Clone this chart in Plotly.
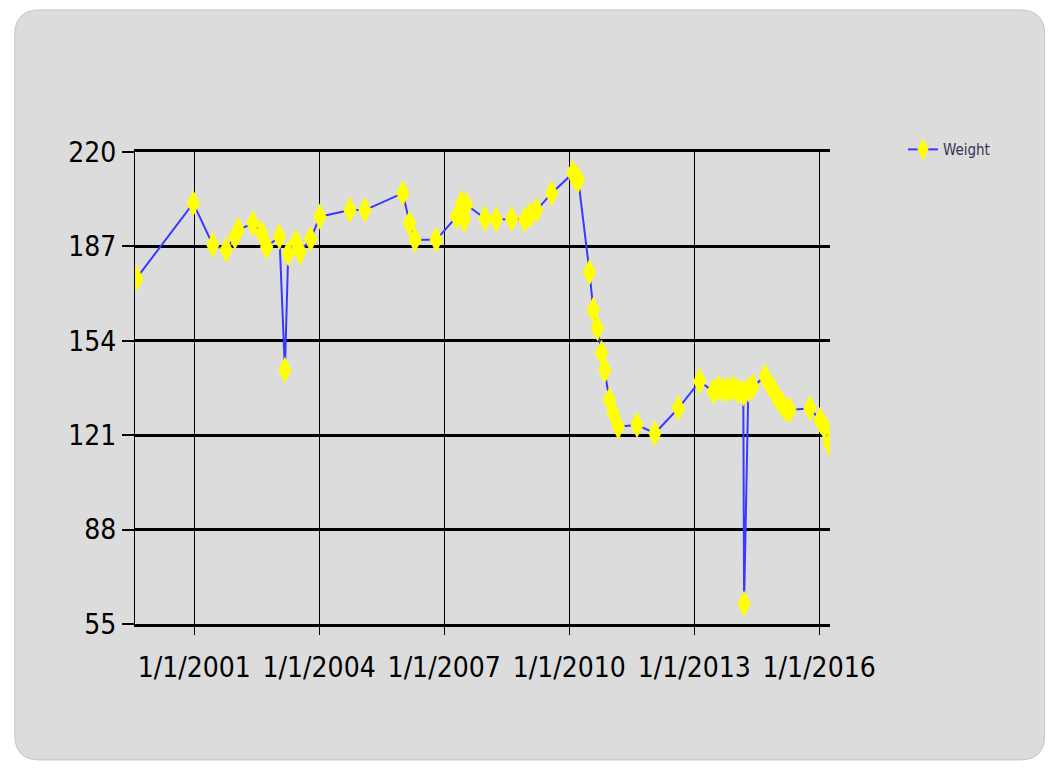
import plotly.graph_objects as go

# ==================================================
# Data
# ==================================================

dates = [
    "1999-08-15", "2000-12-24", "2001-06-13", "2001-10-08", "2001-12-24",
    "2002-01-22", "2002-05-30", "2002-08-15", "2002-09-28", "2003-01-18",
    "2003-03-07", "2003-04-05", "2003-06-13", "2003-07-20", "2003-10-19",
    "2004-01-08", "2004-09-27", "2005-02-06", "2006-01-04", "2006-03-04",
    "2006-04-20", "2006-10-23", "2007-04-20", "2007-06-03", "2007-06-25",
    "2007-07-16", "2007-12-24", "2008-04-01", "2008-08-15", "2008-12-08",
    "2009-01-22", "2009-03-22", "2009-07-31", "2010-02-03", "2010-02-28",
    "2010-03-22", "2010-06-28", "2010-07-31", "2010-09-06", "2010-10-12",
    "2010-11-10", "2010-12-20", "2011-01-22", "2011-03-07", "2011-08-19",
    "2012-01-22", "2012-08-15", "2013-02-17", "2013-06-17", "2013-07-31",
    "2013-09-13", "2013-10-27", "2013-12-08", "2014-01-22", "2014-03-07",
    "2014-03-14", "2014-04-20", "2014-05-30", "2014-09-13", "2014-10-19",
    "2014-11-24", "2015-01-01", "2015-02-06", "2015-03-14", "2015-04-20",
    "2015-10-12", "2016-01-08", "2016-02-14", "2016-04-01",
]
weights = [
    175.9, 202.1, 187.5, 185.8, 190.4,
    192.7, 195.1, 191.6, 186.9, 190.4,
    143.8, 184.6, 188.5, 185.0, 189.6,
    197.4, 199.7, 199.7, 205.6, 195.1,
    189.3, 189.3, 197.4, 202.1, 196.3,
    201.5, 196.8, 196.3, 196.6, 196.3,
    198.0, 199.7, 205.6, 212.6, 211.0,
    210.2, 178.0, 164.8, 158.4, 149.7,
    143.8, 133.3, 128.7, 124.0, 124.6,
    121.7, 130.4, 139.8, 136.3, 137.5,
    136.8, 137.0, 137.4, 136.5, 135.7,
    62.1, 137.0, 138.0, 141.5, 139.0,
    136.8, 134.0, 132.2, 130.0, 129.8,
    130.4, 126.3, 124.0, 118.2,
]

y_ticks = [55, 88, 121, 154, 187, 220]
x_ticks = ["2001-01-01", "2004-01-01", "2007-01-01", "2010-01-01", "2013-01-01", "2016-01-01"]
x_labels = ["1/1/2001", "1/1/2004", "1/1/2007", "1/1/2010", "1/1/2013", "1/1/2016"]

FONT = "DejaVu Sans Condensed, Liberation Sans Narrow, Arial Narrow, sans-serif"

# ==================================================
# Figure
# ==================================================

fig = go.Figure()

fig.add_trace(go.Scatter(
    x=dates, y=weights, name="Weight", mode="lines+markers",
    line=dict(color="#3a3aff", width=2),
    marker=dict(symbol="diamond-tall", size=19, color="#ffff00",
                line=dict(width=0)),
))

# rounded grey panel behind the chart (paper coords)
x0, x1, y0, y1 = -0.173, 1.309, -0.288, 1.301
rx, ry = 0.036, 0.053
panel = (f"M {x0+rx},{y1} L {x1-rx},{y1} Q {x1},{y1} {x1},{y1-ry} "
         f"L {x1},{y0+ry} Q {x1},{y0} {x1-rx},{y0} L {x0+rx},{y0} "
         f"Q {x0},{y0} {x0},{y0+ry} L {x0},{y1-ry} Q {x0},{y1} {x0+rx},{y1} Z")
fig.add_shape(type="path", path=panel, xref="paper", yref="paper",
              fillcolor="#dcdcdc", line=dict(color="#c4c4c4", width=1),
              layer="below")

# page body adds 8px, so the figure is 8px smaller than the window
fig.update_layout(
    width=1045, height=761,
    margin=dict(l=127, r=223, t=144, b=145),
    paper_bgcolor="white",
    plot_bgcolor="rgba(0,0,0,0)",
    showlegend=True,
    legend=dict(x=1.105, y=1.04, xanchor="left", yanchor="top",
                bgcolor="rgba(0,0,0,0)",
                font=dict(family=FONT, size=15, color="#333355")),
)

# x axis line (mirrored) doubles as the thick 55 / 220 grid lines
fig.update_xaxes(
    type="date", range=["1999-08-01", "2016-04-05"],
    tickvals=x_ticks, ticktext=x_labels,
    showgrid=True, gridcolor="black", gridwidth=1,
    ticks="outside", ticklen=8, tickcolor="black",
    ticklabelstandoff=8,
    tickfont=dict(family=FONT, size=28, color="black"),
    showline=True, linecolor="black", linewidth=3, mirror=True,
    zeroline=False,
)
fig.update_yaxes(
    range=[55, 220], tickvals=y_ticks,
    showgrid=True, gridcolor="black", gridwidth=3,
    ticks="outside", ticklen=12, tickcolor="black", tickwidth=2,
    tickfont=dict(family=FONT, size=28, color="black"),
    showline=True, linecolor="black", linewidth=1,
    zeroline=False,
)

fig.write_html("out.html")
